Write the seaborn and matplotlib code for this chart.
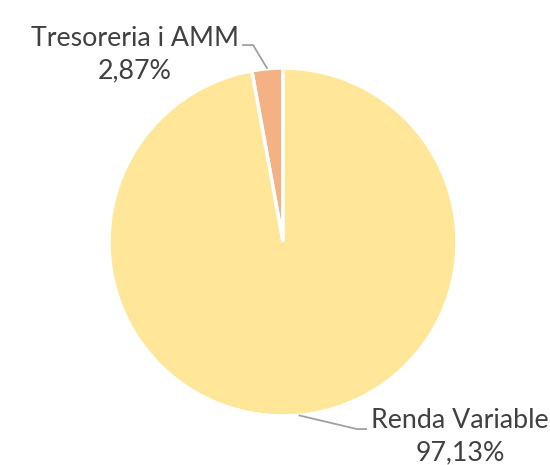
import numpy as np
import matplotlib
matplotlib.use("Agg")
import matplotlib.pyplot as plt
import seaborn as sns

# pie data
labels = ["Tresoreria i AMM", "Renda Variable"]
values = [2.87, 97.13]
value_labels = ["2,87%", "97,13%"]
colors = ["#F4B183", "#FFE699"]

sns.set_theme(style="white")
plt.rcParams["font.family"] = ["Lato", "DejaVu Sans"]

fig = plt.figure(figsize=(5.5, 4.65), dpi=100)
ax = fig.add_axes([0, 0, 1, 1])

wedges, _ = ax.pie(values, colors=colors, startangle=90, counterclock=True,
                   radius=1.0, wedgeprops=dict(edgecolor="white", linewidth=2.5))

# label text block centre and elbow offset (layout only)
text_pos = [(-0.851, 1.076), (1.017, -1.12)]
elbow = [(-0.172, 1.132), (0.425, -1.075)]
line_end = [(-0.235, 1.132), (0.483, -1.075)]

for i, w in enumerate(wedges):
    ang = np.deg2rad((w.theta1 + w.theta2) / 2)
    x0, y0 = np.cos(ang), np.sin(ang)
    ax.plot([x0, elbow[i][0], line_end[i][0]], [y0, elbow[i][1], line_end[i][1]],
            color="#A0A0A0", lw=1.3, solid_capstyle="butt")
    ax.text(text_pos[i][0], text_pos[i][1], labels[i] + "\n" + value_labels[i],
            ha="center", va="center", fontsize=19.3, color="#404040",
            linespacing=1.36)

ax.set_xlim(-283 / 174, (550 - 283) / 174)
ax.set_ylim((242 - 465) / 174, 242 / 174)
ax.set_aspect("auto")
ax.axis("off")

fig.savefig("out.png", dpi=100, facecolor="white")
